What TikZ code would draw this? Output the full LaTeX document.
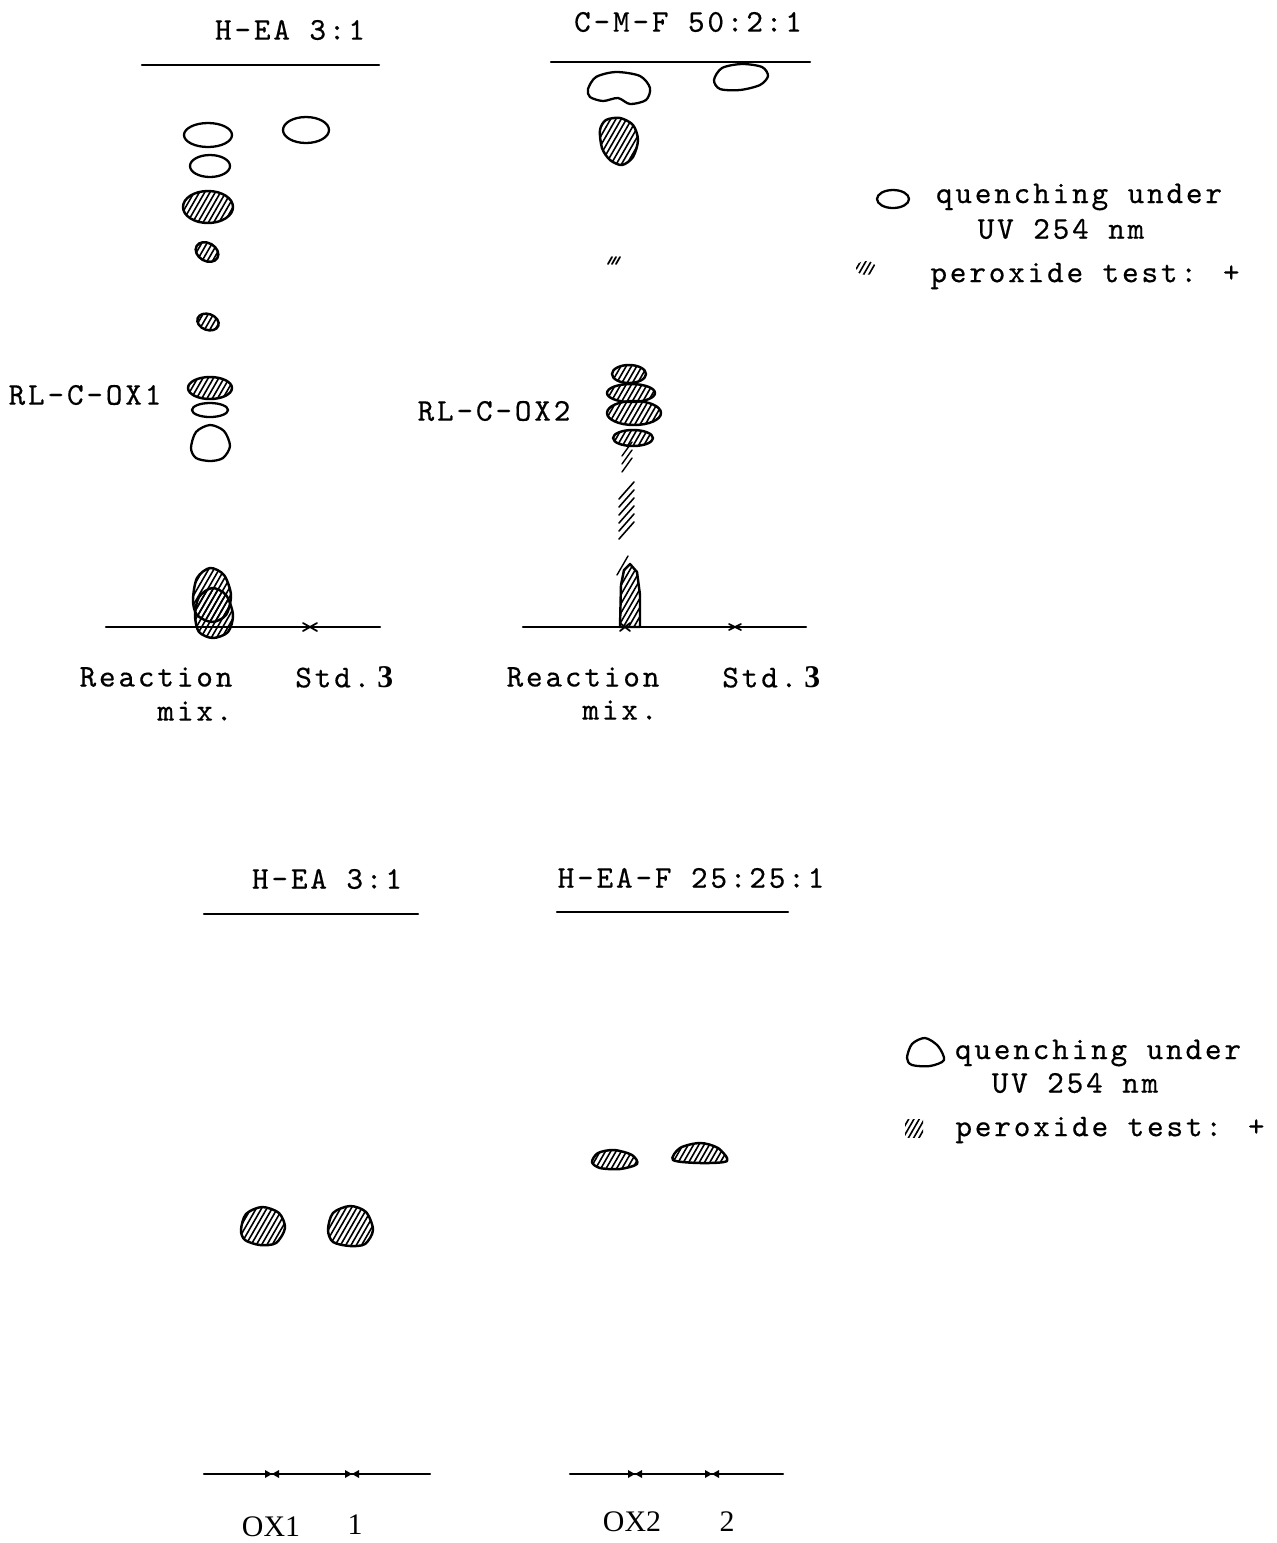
\documentclass[tikz,border=0pt]{standalone}
\usepackage{fontspec}
\setmainfont{Liberation Serif}
\newfontfamily\typew[LetterSpace=9,FakeBold=0.4]{lmmono10-regular.otf}
\usetikzlibrary{patterns}

% steep hatching for the peroxide-positive spots
\pgfdeclarepatternformonly{hatch}{\pgfqpoint{-1pt}{-1pt}}{\pgfqpoint{4pt}{6pt}}{\pgfqpoint{3pt}{5.2pt}}{
  \pgfsetlinewidth{0.9pt}
  \pgfpathmoveto{\pgfqpoint{0pt}{0pt}}
  \pgfpathlineto{\pgfqpoint{3pt}{5.2pt}}
  \pgfusepath{stroke}}

\tikzset{
  txt/.style={inner sep=0pt, font=\typew\fontsize{18}{21}\selectfont},
  lbl/.style={inner sep=0pt, font=\fontsize{17}{20}\selectfont},
  spot/.style={draw, line width=1.3pt},
  hspot/.style={draw, line width=1.4pt, pattern=hatch},
  plate/.style={line width=1.2pt},
}

\begin{document}
\begin{tikzpicture}[x=0.02cm, y=-0.02cm, line cap=round, line join=round]
\useasboundingbox (0,0) rectangle (1276,1543);

%%% upper left plate: H-EA 3:1
\node[txt] (tA) at (290,30) {H-EA 3:1};
\draw[plate] (142,65) -- (379,65);
\draw[spot] (208,135) ellipse [x radius=24, y radius=12];
\draw[spot] (210,166) ellipse [x radius=20, y radius=11];
\draw[hspot] (208,207) ellipse [x radius=25, y radius=16];
\draw[hspot, rotate around={-30:(207,252)}] (207,252) ellipse [x radius=12, y radius=9];
\draw[hspot, rotate around={-20:(208,322)}] (208,322) ellipse [x radius=11, y radius=8];
\draw[hspot] (210,388) ellipse [x radius=22, y radius=11];
\draw[spot] (210,410) ellipse [x radius=18, y radius=7];
\draw[spot] plot[smooth cycle] coordinates {(191,448) (196,432) (210,425) (224,431) (230,446) (223,458) (210,461) (196,458)};
\draw[spot] (306,130) ellipse [x radius=23, y radius=13];
\node[txt] (rl1) at (85,395) {RL-C-OX1};
% origin line with the reaction mixture
\draw[plate] (106,627) -- (380,627);
\draw[hspot] plot[smooth cycle] coordinates {(193,600) (197,578) (210,568) (224,575) (231,595) (226,615) (212,622) (197,615)};
\draw[hspot] plot[smooth cycle] coordinates {(195,615) (199,597) (212,588) (226,595) (233,615) (228,632) (213,638) (199,632)};
\draw[line width=1pt] (303,623) -- (317,631) (303,631) -- (317,623);
\node[txt] (rx1) at (156,677) {Reaction};
\node[txt] (mx1) at (195,711) {mix.};
\node[txt, anchor=west] (sd1) at (295,677) {Std.\hspace{4pt}{\rmfamily\bfseries 3}};

%%% upper right plate: C-M-F 50:2:1
\node[txt] (tB) at (688,22) {C-M-F 50:2:1};
\draw[plate] (551,62) -- (810,62);
\draw[spot] plot[smooth cycle] coordinates {(588,89) (596,77) (616,72) (640,76) (650,88) (646,100) (630,104) (618,98) (603,101) (590,97)};
\draw[spot] plot[smooth cycle] coordinates {(714,80) (722,68) (742,64) (762,67) (768,76) (760,85) (740,90) (720,89)};
\draw[hspot] plot[smooth cycle] coordinates {(600,130) (606,120) (620,118) (633,125) (638,140) (633,157) (622,165) (610,160) (602,148)};
\foreach \dx in {0,4,8}
  \draw[line width=1pt] (608+\dx,264) -- (612+\dx,257);
% streaked zone
\draw[hspot] (629,374) ellipse [x radius=17, y radius=9];
\draw[hspot] (631,393) ellipse [x radius=24, y radius=9];
\draw[hspot] (634,413) ellipse [x radius=27, y radius=12];
\draw[hspot] (633,438) ellipse [x radius=20, y radius=8];
\foreach \yy in {450,458,466}
  \draw[line width=0.8pt] (622,\yy+6) -- (632,\yy-8);
\foreach \yy in {492,500,508,516,524,532}
  \draw[line width=0.9pt] (619,\yy+7) -- (634,\yy-10);
\node[txt] (rl2) at (494,411) {RL-C-OX2};
\draw[plate] (523,627) -- (806,627);
\draw[hspot] plot coordinates {(620,627) (621,585) (624,570) (630,564) (637,572) (640,595) (640,627)} -- cycle;
\draw[line width=0.8pt] (617,575) -- (628,556);
\draw[line width=1pt] (620,623) -- (630,631) (620,631) -- (630,623);
\draw[line width=1pt] (729,624) -- (741,630) (729,630) -- (741,624);
\node[txt] (rx2) at (583,677) {Reaction};
\node[txt] (mx2) at (620,710) {mix.};
\node[txt, anchor=west] (sd2) at (722,677) {Std.\hspace{4pt}{\rmfamily\bfseries 3}};

%%% legend, upper
\draw[spot] (893,199) ellipse [x radius=16, y radius=9];
\node[txt] (q1) at (1079,197) {quenching under};
\node[txt] (u1) at (1061,229) {UV 254 nm};
\fill[pattern=hatch] (866,268) ellipse [x radius=10, y radius=7];
\node[txt] (p1) at (1085,276) {peroxide test: +};

%%% lower left plate: H-EA 3:1
\node[txt] (tC) at (327,879) {H-EA 3:1};
\draw[plate] (204,914) -- (418,914);
\draw[hspot] plot[smooth cycle] coordinates {(241,1230) (246,1214) (262,1207) (279,1213) (285,1228) (276,1243) (260,1245) (245,1240)};
\draw[hspot] plot[smooth cycle] coordinates {(328,1230) (333,1213) (350,1206) (366,1212) (373,1230) (365,1244) (350,1246) (333,1242)};
\draw[plate] (204,1474) -- (430,1474);
\foreach \mx in {272,352}
  \fill (\mx-7,1470) -- (\mx,1474) -- (\mx-7,1478) -- cycle
        (\mx+7,1470) -- (\mx,1474) -- (\mx+7,1478) -- cycle;
\node[lbl] (o1) at (271,1527) {OX1};
\node[lbl] (n1) at (355,1525) {1};

%%% lower right plate: H-EA-F 25:25:1
\node[txt] (tD) at (691,878) {H-EA-F 25:25:1};
\draw[plate] (557,912) -- (788,912);
\draw[hspot] plot[smooth cycle] coordinates {(592,1162) (598,1153) (614,1150) (632,1155) (637,1164) (620,1169) (600,1168)};
\draw[hspot] plot[smooth cycle] coordinates {(673,1160) (680,1148) (700,1143) (718,1148) (727,1161) (700,1163)};
\draw[plate] (570,1474) -- (783,1474);
\foreach \mx in {635,712}
  \fill (\mx-7,1470) -- (\mx,1474) -- (\mx-7,1478) -- cycle
        (\mx+7,1470) -- (\mx,1474) -- (\mx+7,1478) -- cycle;
\node[lbl] (o2) at (632,1522) {OX2};
\node[lbl] (n2) at (727,1522) {2};

%%% legend, lower
\draw[spot] plot[smooth cycle] coordinates {(907,1058) (912,1044) (925,1038) (938,1046) (944,1060) (930,1066) (912,1065)};
\node[txt] (q2) at (1098,1053) {quenching under};
\node[txt] (u2) at (1075,1083) {UV 254 nm};
\fill[pattern=hatch] (905,1119) rectangle (923,1137);
\node[txt] (p2) at (1110,1130) {peroxide test: +};

\end{tikzpicture}
\end{document}
